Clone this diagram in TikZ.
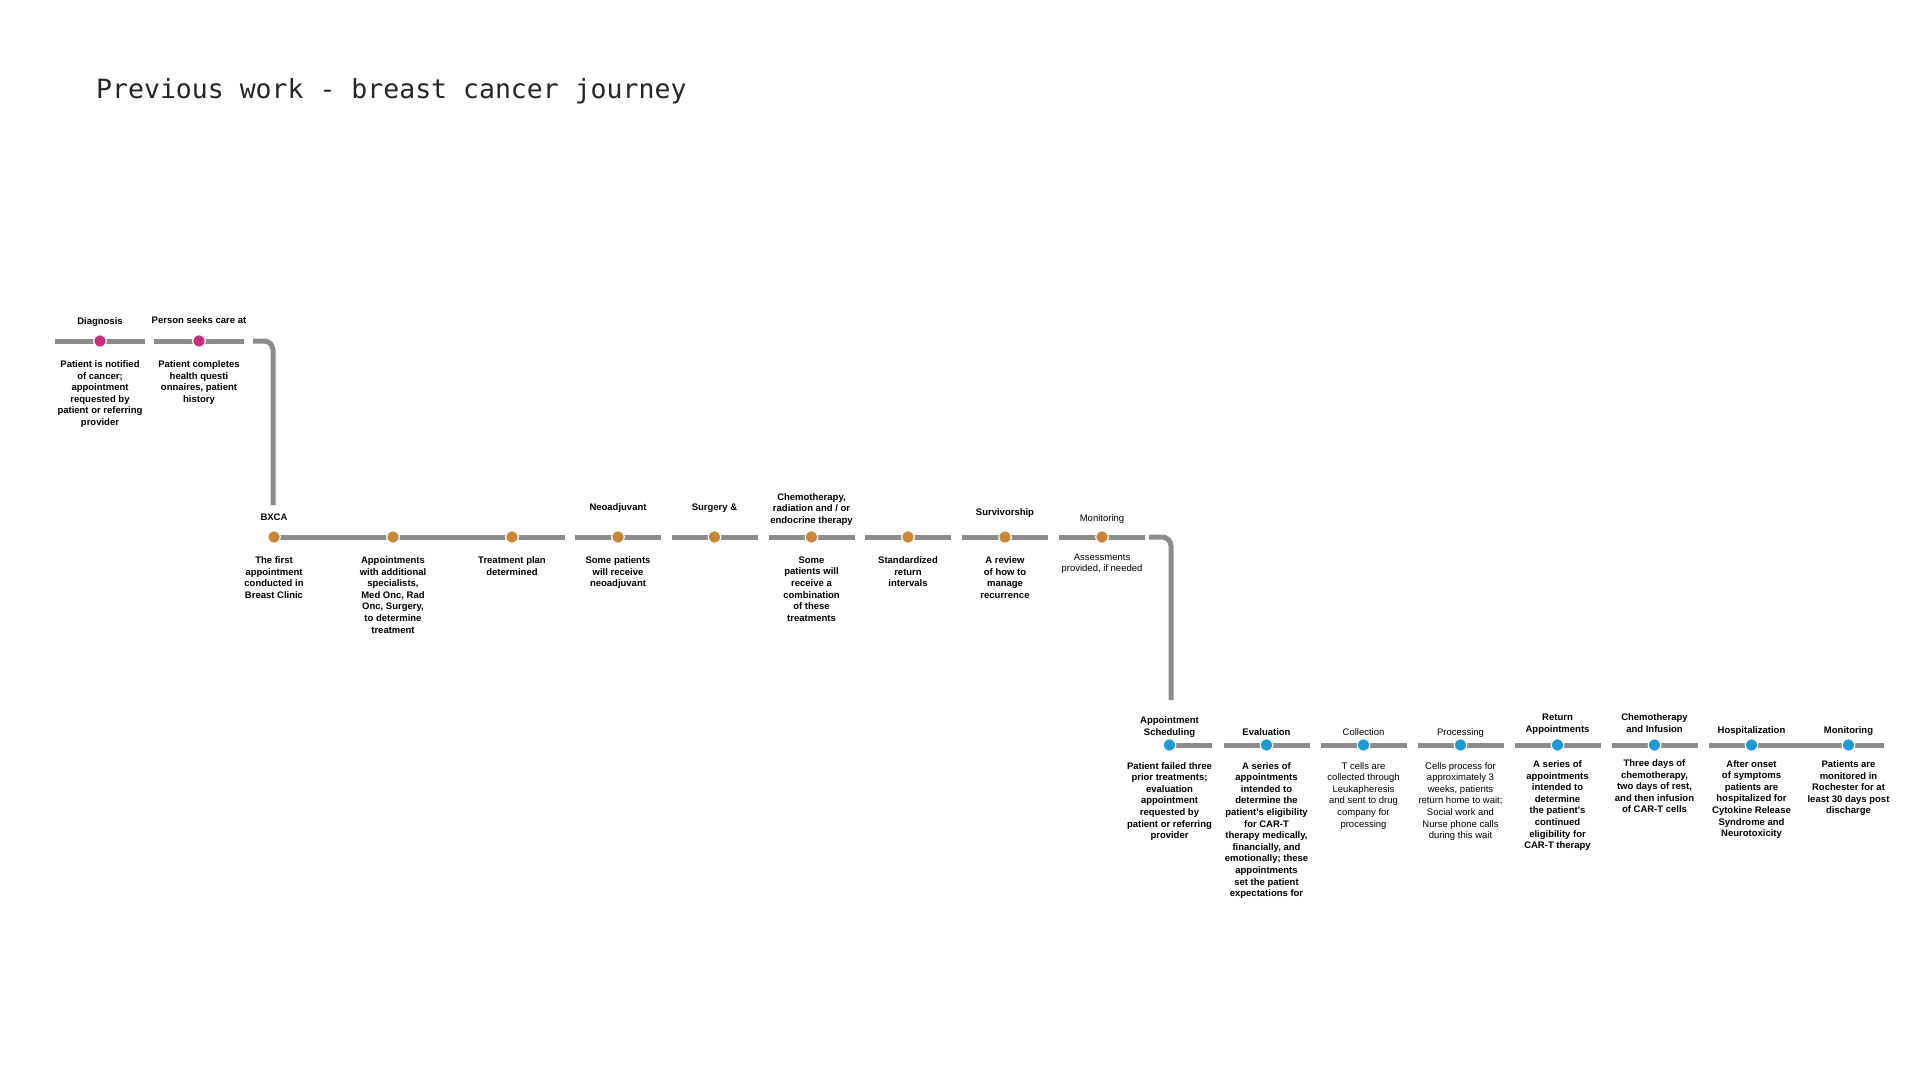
\documentclass[tikz,border=0pt]{standalone}
\usepackage{fontspec}
\setmainfont{Liberation Sans}
\newfontfamily\titlemono{DejaVu Sans Mono}
\usepackage{xcolor}
\usetikzlibrary{positioning,calc}

\definecolor{trackgray}{HTML}{8C8C8C}
\definecolor{diagpink}{HTML}{CC2C7D}
\definecolor{clinicorange}{HTML}{C98838}
\definecolor{cartblue}{HTML}{1B9BD8}

\begin{document}
\begin{tikzpicture}[x=1pt, y=-1pt,
    track/.style={line width=5pt, draw=trackgray},
    station/.style={circle, fill=#1, draw=white, line width=1.2pt, minimum size=12.5pt, inner sep=0pt},
    stage/.style={font=\fontsize{9.5}{11.6}\selectfont\bfseries, align=center, inner sep=0pt, anchor=south},
    note/.style={font=\fontsize{9.5}{11.6}\selectfont\bfseries, align=center, inner sep=0pt, anchor=north},
    lightface/.style={font=\fontsize{9.5}{11.6}\selectfont}]

    % Canvas
    \fill[white] (0,0) rectangle (1920,1080);
    \useasboundingbox (0,0) rectangle (1920,1080);

    % Title
    \node[anchor=base west, font=\titlemono\fontsize{26.5}{30}\selectfont, text=black!85, inner sep=0pt] (title) at (96,98) {Previous work - breast cancer journey};

    % Row 1: diagnosis (pink)
    \coordinate (diag) at (100,341);
    \coordinate (seek) at (199,341);
    \foreach \s in {diag, seek} {
        \draw[track] ([xshift=-45pt]\s) -- ([xshift=45pt]\s);
    }
    \coordinate (turnA) at (253,341);
    \coordinate (dropA) at (273,505);
    \draw[track, rounded corners=9pt] (turnA) -| (dropA);

    \node[station=diagpink] (diagdot) at (diag) {};
    \node[station=diagpink] (seekdot) at (seek) {};

    \node[stage] (diagtop) at (100,326.5) {Diagnosis};
    \node[stage] (seektop) at (199,324) {Person seeks care at};
    \node[note] (diagnote) at (100,360.5) {Patient is notified\\of cancer;\\appointment\\requested by\\patient or referring\\provider};
    \node[note] (seeknote) at (199,360.5) {Patient completes\\health questi\\onnaires, patient\\history};

    % Row 2: breast clinic (orange)
    \coordinate (bxca) at (274,537);
    \coordinate (spec) at (393,537);
    \coordinate (plan) at (512,537);
    \coordinate (neo) at (618,537);
    \coordinate (surg) at (714.5,537);
    \coordinate (chemo) at (811.5,537);
    \coordinate (stdint) at (908,537);
    \coordinate (surv) at (1005,537);
    \coordinate (monB) at (1102,537);
    \draw[track] (bxca) -- ([xshift=53pt]plan);
    \foreach \s in {neo, surg, chemo, stdint, surv, monB} {
        \draw[track] ([xshift=-43pt]\s) -- ([xshift=43pt]\s);
    }
    \coordinate (turnB) at (1149,537);
    \coordinate (dropB) at (1171,700);
    \draw[track, rounded corners=9pt] (turnB) -| (dropB);

    \foreach \s in {bxca, spec, plan, neo, surg, chemo, stdint, surv, monB} {
        \node[station=clinicorange] (\s dot) at (\s) {};
    }

    \node[stage] (bxcatop) at (274,521) {BXCA};
    \node[stage] (neotop) at (618,513) {Neoadjuvant};
    \node[stage] (surgtop) at (714.5,512.5) {Surgery \&};
    \node[stage, font=\fontsize{9.5}{11.6}\selectfont] (chemotop) at (811.5,525.5) {\textbf{Chemotherapy,}\\\textbf{radiation and / or}\\\textbf{endocrine therapy}};
    \node[stage] (survtop) at (1005,517.5) {Survivorship};
    \node[stage, lightface] (monBtop) at (1102,523.5) {Monitoring};

    \node[note] (bxcanote) at (274,556.5) {The first\\appointment\\conducted in\\Breast Clinic};
    \node[note] (specnote) at (393,556.5) {Appointments\\with additional\\specialists,\\Med Onc, Rad\\Onc, Surgery,\\to determine\\treatment};
    \node[note] (plannote) at (512,556.5) {Treatment plan\\determined};
    \node[note] (neonote) at (618,556.5) {Some patients\\will receive\\neoadjuvant};
    \node[note] (chemonote) at (811.5,556.5) {Some\\patients will\\receive a\\combination\\of these\\treatments};
    \node[note] (stdintnote) at (908,556.5) {Standardized\\return\\intervals};
    \node[note] (survnote) at (1005,556.5) {A review\\of how to\\manage\\recurrence};
    \node[note, lightface] (monBnote) at (1102,553.5) {Assessments\\provided, if needed};

    % Row 3: CAR-T (blue)
    \coordinate (sched) at (1169.5,745);
    \coordinate (eval) at (1266.5,745);
    \coordinate (coll) at (1363.5,745);
    \coordinate (proc) at (1460.5,745);
    \coordinate (ret) at (1557.5,745);
    \coordinate (infuse) at (1654.5,745);
    \coordinate (hosp) at (1751.5,745);
    \coordinate (monC) at (1848.5,745);
    \draw[track] (sched) -- ([xshift=42pt]sched);
    \foreach \s in {eval, coll, proc, ret, infuse} {
        \draw[track] ([xshift=-43pt]\s) -- ([xshift=43pt]\s);
    }
    \draw[track] ([xshift=-43pt]hosp) -- ([xshift=35pt]monC);

    \foreach \s in {sched, eval, coll, proc, ret, infuse, hosp, monC} {
        \node[station=cartblue] (\s dot) at (\s) {};
    }

    \node[stage] (schedtop) at (1169.5,737.5) {Appointment\\Scheduling};
    \node[stage] (evaltop) at (1266.5,735.5) {Evaluation};
    \node[stage, lightface] (colltop) at (1363.5,735.5) {Collection};
    \node[stage, lightface] (proctop) at (1460.5,737.5) {Processing};
    \node[stage] (rettop) at (1557.5,734.5) {Return\\Appointments};
    \node[stage] (infusetop) at (1654.5,732.5) {Chemotherapy\\and Infusion};
    \node[stage] (hosptop) at (1751.5,735.5) {Hospitalization};
    \node[stage] (monCtop) at (1848.5,735.5) {Monitoring};

    \node[note] (schednote) at (1169.5,762) {Patient failed three\\prior treatments;\\evaluation\\appointment\\requested by\\patient or referring\\provider};
    \node[note] (evalnote) at (1266.5,762) {A series of\\appointments\\intended to\\determine the\\patient’s eligibility\\for CAR-T\\therapy medically,\\financially, and\\emotionally; these\\appointments\\set the patient\\expectations for};
    \node[note, lightface] (collnote) at (1363.5,762) {T cells are\\collected through\\Leukapheresis\\and sent to drug\\company for\\processing};
    \node[note, lightface] (procnote) at (1460.5,762) {Cells process for\\approximately 3\\weeks, patients\\return home to wait;\\Social work and\\Nurse phone calls\\during this wait};
    \node[note] (retnote) at (1557.5,760.5) {A series of\\appointments\\intended to\\determine\\the patient’s\\continued\\eligibility for\\CAR-T therapy};
    \node[note] (infusenote) at (1654.5,759.5) {Three days of\\chemotherapy,\\two days of rest,\\and then infusion\\of CAR-T cells};
    \node[note] (hospnote) at (1751.5,760) {After onset\\of symptoms\\patients are\\hospitalized for\\Cytokine Release\\Syndrome and\\Neurotoxicity};
    \node[note] (monCnote) at (1848.5,760.5) {Patients are\\monitored in\\Rochester for at\\least 30 days post\\discharge};
\end{tikzpicture}
\end{document}
